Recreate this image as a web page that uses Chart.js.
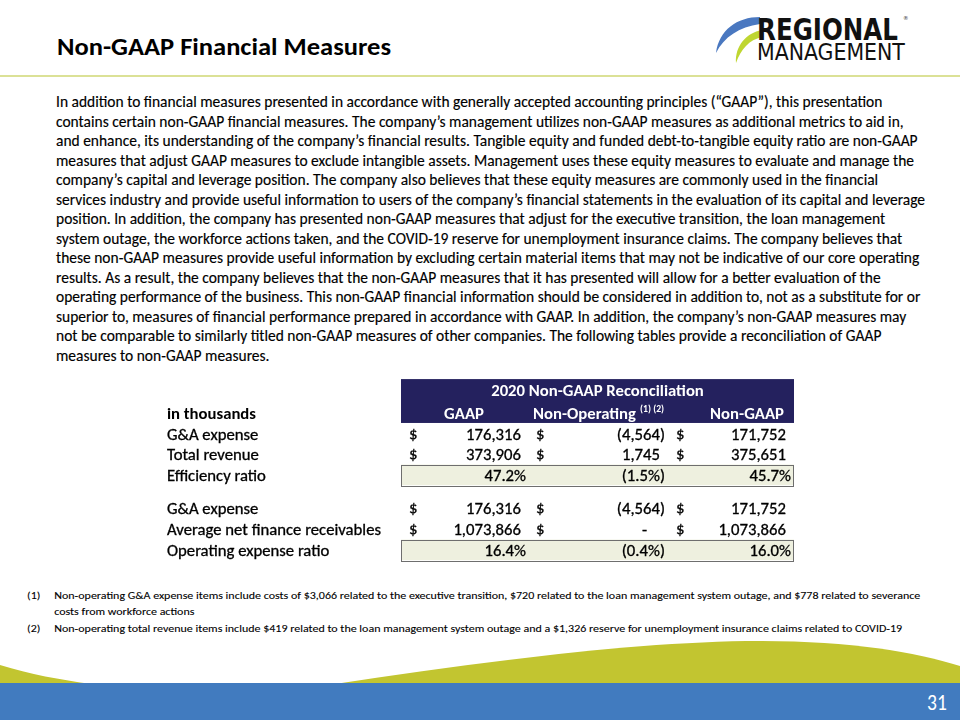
<!DOCTYPE html>
<html>
<head>
<meta charset="utf-8">
<script src="https://cdn.jsdelivr.net/npm/chart.js@4/dist/chart.umd.min.js"></script>
<style>
  html, body { margin:0; padding:0; background:#fff; }
  body { width:960px; height:720px; position:relative; overflow:hidden; font-family: Carlito, Lato, "Noto Sans", sans-serif; color:#000; }
  .abs { position:absolute; }
  #title { left:57px; top:33px; font-size:23.5px; font-weight:700; white-space:nowrap; transform-origin:left center; }
  #rule { left:0; top:75px; width:960px; height:2px; background:#dbe196; }
  #para { left:56px; top:92px; font-size:15.5px; line-height:19.5px; transform-origin:left top; -webkit-text-stroke:0.15px #000; }
  #para div { white-space:nowrap; }
  #notes { left:27px; top:588px; font-size:11px; line-height:15.5px; transform-origin:left top; -webkit-text-stroke:0.1px #000; }
  #notes .n { white-space:nowrap; position:relative; padding-left:25px; }
  #notes .n span.k { position:absolute; left:0; }
  #pg { left:927px; top:688px; color:#fff; font-size:23px; transform-origin:left top; transform:scaleX(0.85); }
  #tbl { left:150px; top:370px; }
</style>
</head>
<body>
<svg class="abs" style="left:0;top:0" width="960" height="720">
  <!-- logo -->
  <path d="M760,17 C737,17 719,30 716,53 C724,37 739,27 760,24 Z" fill="#4a78c0"/>
  <path d="M762,30 C746,33 735,46 736,63 C741,49 749,40 762,37 Z" fill="#bfd631"/>
  <text id="lg1" x="0" y="0" font-family="'Liberation Sans Narrow','DejaVu Sans Condensed',Roboto,sans-serif" font-weight="700" font-size="31" fill="#111">REGIONAL</text>
  <text x="903" y="20" font-family="'DejaVu Sans',sans-serif" font-size="5.5" fill="#444">®</text>
  <text id="lg2" x="0" y="0" font-family="'Liberation Sans Narrow','DejaVu Sans Condensed',Roboto,sans-serif" font-size="23" fill="#111">MANAGEMENT</text>
  <!-- bottom waves -->
  <path d="M0,665 C30,674 60,680 92,684 L0,684 Z" fill="#c2c530"/>
  <path d="M335,684 C480,662 640,641 760,641 C850,641 915,652 960,666 L960,684 Z" fill="#c2c530"/>
  <rect x="0" y="683" width="960" height="37" fill="#417bbf"/>
</svg>
<div id="title" class="abs">Non-GAAP Financial Measures</div>
<div id="rule" class="abs"></div>
<div id="para" class="abs">
<div>In addition to financial measures presented in accordance with generally accepted accounting principles (“GAAP”), this presentation</div>
<div>contains certain non-GAAP financial measures. The company’s management utilizes non-GAAP measures as additional metrics to aid in,</div>
<div>and enhance, its understanding of the company’s financial results. Tangible equity and funded debt-to-tangible equity ratio are non-GAAP</div>
<div>measures that adjust GAAP measures to exclude intangible assets. Management uses these equity measures to evaluate and manage the</div>
<div>company’s capital and leverage position. The company also believes that these equity measures are commonly used in the financial</div>
<div id="refline">services industry and provide useful information to users of the company’s financial statements in the evaluation of its capital and leverage</div>
<div>position. In addition, the company has presented non-GAAP measures that adjust for the executive transition, the loan management</div>
<div>system outage, the workforce actions taken, and the COVID-19 reserve for unemployment insurance claims. The company believes that</div>
<div>these non-GAAP measures provide useful information by excluding certain material items that may not be indicative of our core operating</div>
<div>results. As a result, the company believes that the non-GAAP measures that it has presented will allow for a better evaluation of the</div>
<div>operating performance of the business. This non-GAAP financial information should be considered in addition to, not as a substitute for or</div>
<div>superior to, measures of financial performance prepared in accordance with GAAP. In addition, the company’s non-GAAP measures may</div>
<div>not be comparable to similarly titled non-GAAP measures of other companies. The following tables provide a reconciliation of GAAP</div>
<div>measures to non-GAAP measures.</div>
</div>
<canvas id="tbl" class="abs" width="660" height="200"></canvas>
<div id="notes" class="abs">
<div class="n" id="noteref"><span class="k">(1)</span>Non-operating G&amp;A expense items include costs of $3,066 related to the executive transition, $720 related to the loan management system outage, and $778 related to severance</div>
<div class="n" style="margin-bottom:1.5px">costs from workforce actions</div>
<div class="n"><span class="k">(2)</span>Non-operating total revenue items include $419 related to the loan management system outage and a $1,326 reserve for unemployment insurance claims related to COVID-19</div>
</div>
<div id="pg" class="abs">31</div>

<script>
// ---------------- data ----------------
const tableTitle = '2020 Non-GAAP Reconciliation';
const unitLabel = 'in thousands';
const columnHeaders = ['GAAP', 'Non-Operating', 'Non-GAAP'];
const headerNote = '(1) (2)';
const rowLabels = ['G&A expense', 'Total revenue', 'Efficiency ratio',
                   'G&A expense', 'Average net finance receivables', 'Operating expense ratio'];
const rowKinds = ['money', 'money', 'ratio', 'money', 'money', 'ratio'];
const gaapValues = [176316, 373906, 47.2, 176316, 1073866, 16.4];
const nonOperatingValues = [-4564, 1745, -1.5, -4564, 0, -0.4];
const nonGaapValues = [171752, 375651, 45.7, 171752, 1073866, 16.0];

// ---------------- layout (not data) ----------------
const titleRow = -0.03, headerRow = 1.1;
const bodyRows = [2.13, 3.1, 4.12, 5.74, 6.74, 7.76];
const textDy = 2.3;
const labelX = 167;
const boxLeft = 401, boxRight = 794;
const dollarX = [409, 536, 676];
const colRight = [526, 665, 791];
const headerCenter = [464, 583, 747];
const nonOpHeaderStart = 533;

(function () {
  const ref = document.getElementById('refline');
  const r = document.createElement('span'); r.textContent = ref.textContent;
  r.style.whiteSpace = 'nowrap'; ref.textContent = ''; ref.appendChild(r);
  const s = 869 / r.getBoundingClientRect().width;
  document.getElementById('para').style.transform = 'scaleX(' + s + ')';
  const t = document.getElementById('title');
  t.style.transform = 'scaleX(' + (334 / t.getBoundingClientRect().width) + ')';
  const n = document.getElementById('noteref');
  const sp = document.createElement('span'); sp.style.whiteSpace = 'nowrap';
  sp.textContent = n.childNodes[1].textContent; n.replaceChild(sp, n.childNodes[1]);
  const sn = 866 / sp.getBoundingClientRect().width;
  document.getElementById('notes').style.transform = 'scaleX(' + sn + ')';
  // logo words fitted by transform
  [['lg1', 757, 40, 141], ['lg2', 757, 60, 148]].forEach(([id, x, y, w]) => {
    const el = document.getElementById(id);
    const k = w / el.getComputedTextLength();
    el.setAttribute('transform', 'translate(' + x + ',' + y + ') scale(' + k + ',1)');
  });
})();

function fmt(v, kind) {
  if (kind === 'ratio') {
    const s = Math.abs(v).toFixed(1) + '%';
    return v < 0 ? '(' + s + ')' : s;
  }
  if (v === 0) return '-';
  const s = Math.abs(v).toLocaleString('en-US');
  return v < 0 ? '(' + s + ')' : s;
}

const FONT = 'Carlito, Lato, "Noto Sans", sans-serif';

const tablePlugin = {
  id: 'tableDraw',
  afterDraw(chart) {
    const ctx = chart.ctx, xs = chart.scales.x, ys = chart.scales.y;
    const X = v => xs.getPixelForValue(v);
    const Y = v => ys.getPixelForValue(v);
    const rh = Y(1) - Y(0);
    ctx.save();
    const reg = '15.5px ' + FONT, bold = 'bold 15.5px ' + FONT;
    ctx.font = reg;
    const sx = 214 / ctx.measureText('Average net finance receivables').width;
    function txt(str, x, y, align, font, color, stroke) {
      ctx.save();
      ctx.font = font; ctx.fillStyle = color || '#000';
      ctx.textAlign = align; ctx.textBaseline = 'middle';
      ctx.translate(x, y + textDy); ctx.scale(sx, 1);
      ctx.fillText(str, 0, 0);
      if (stroke) { ctx.strokeStyle = color || '#000'; ctx.lineWidth = 0.3; ctx.strokeText(str, 0, 0); }
      ctx.restore();
    }
    // header box
    const hTop = Y(0) - 0.53 * rh, hBot = Y(headerRow) + 0.5 * rh;
    ctx.fillStyle = '#24215e';
    ctx.fillRect(X(boxLeft), hTop, X(boxRight) - X(boxLeft), hBot - hTop);
    txt(tableTitle, (X(boxLeft) + X(boxRight)) / 2, Y(titleRow), 'center', bold, '#fff');
    txt(columnHeaders[0], X(headerCenter[0]), Y(headerRow), 'center', bold, '#fff');
    txt(columnHeaders[2], X(headerCenter[2]), Y(headerRow), 'center', bold, '#fff');
    txt(columnHeaders[1], X(nonOpHeaderStart), Y(headerRow), 'left', bold, '#fff');
    ctx.font = bold;
    const nw = ctx.measureText(columnHeaders[1]).width * sx;
    txt(headerNote, X(nonOpHeaderStart) + nw + 4, Y(headerRow) - 5, 'left', 'bold 9px ' + FONT, '#fff');
    txt(unitLabel, X(labelX), Y(headerRow), 'left', bold);
    // body rows
    const cols = [gaapValues, nonOperatingValues, nonGaapValues];
    ctx.font = reg;
    const parenW = ctx.measureText(')').width * sx;
    rowLabels.forEach((lab, i) => {
      const y = Y(bodyRows[i]);
      const kind = rowKinds[i];
      if (kind === 'ratio') {
        const t = y - 0.5 * rh, b = y + 0.5 * rh;
        ctx.fillStyle = '#eef0df';
        ctx.fillRect(X(boxLeft), t, X(boxRight) - X(boxLeft), b - t);
        ctx.strokeStyle = '#6e6e6e'; ctx.lineWidth = 1;
        ctx.strokeRect(Math.round(X(boxLeft)) + 0.5, Math.round(t) + 0.5,
                       Math.round(X(boxRight) - X(boxLeft)) - 1, Math.round(b - t));
      }
      txt(lab, X(labelX), y, 'left', reg, '#000', true);
      cols.forEach((arr, c) => {
        const v = arr[i];
        const s = fmt(v, kind);
        if (kind === 'money') {
          txt('$', X(dollarX[c]), y, 'left', reg, '#000', true);
          let right = X(colRight[c]);
          if (v === 0) right -= 18; else if (v > 0) right -= parenW;
          txt(s, right, y, 'right', reg, '#000', true);
        } else {
          txt(s, X(colRight[c]), y, 'right', reg, '#000', true);
        }
      });
    });
    ctx.restore();
  }
};

new Chart(document.getElementById('tbl'), {
  type: 'scatter',
  data: { datasets: [{ data: bodyRows.map(r => ({ x: colRight[2], y: r })), pointRadius: 0 }] },
  options: {
    responsive: false, animation: false, devicePixelRatio: 1,
    layout: { padding: 0 },
    plugins: { legend: { display: false }, tooltip: { enabled: false } },
    scales: {
      x: { type: 'linear', min: 150, max: 810, display: false },
      y: { type: 'linear', min: -0.971, max: 8.738, reverse: true, display: false }
    }
  },
  plugins: [tablePlugin]
});
</script>
</body>
</html>
